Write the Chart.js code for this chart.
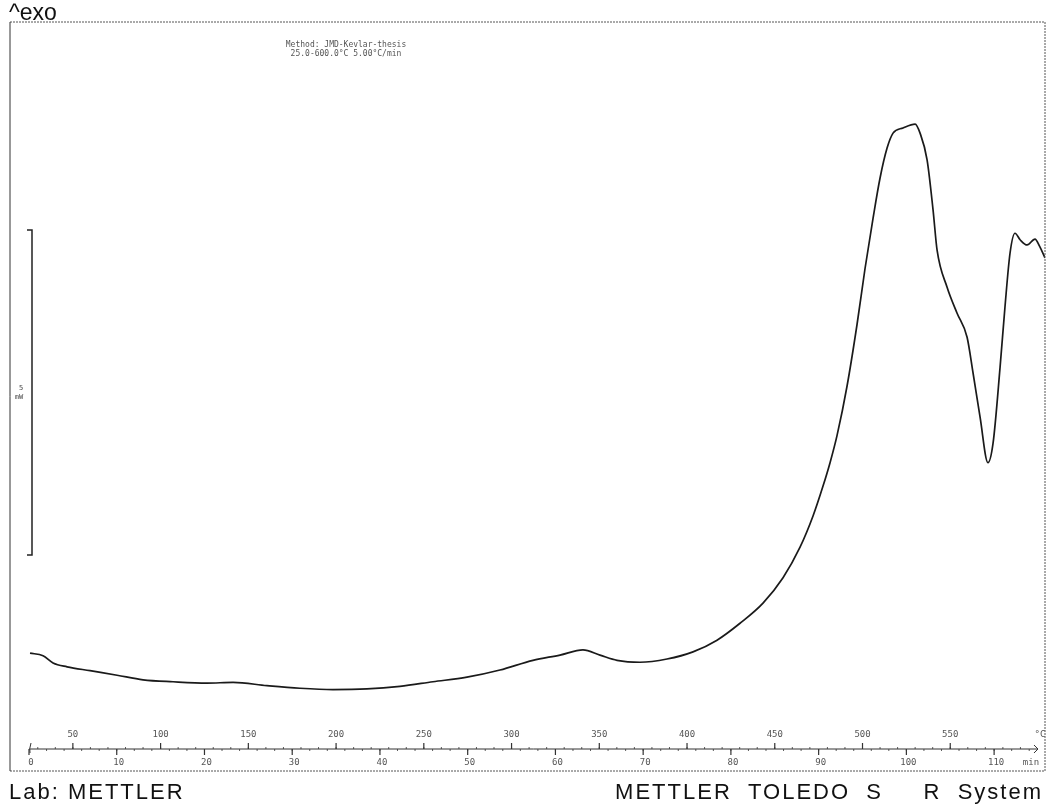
<!DOCTYPE html>
<html>
<head>
<meta charset="utf-8">
<script src="https://cdn.jsdelivr.net/npm/chart.js@4"></script>
<style>
  body { margin: 0; background: #fff; }
  canvas { display: block; }
</style>
</head>
<body>
<canvas id="dsc" width="1049" height="809"></canvas>
<script>
// DSC curve: temperature (°C) and heat flow (mW, arbitrary zero)
const temperatures = [25.6, 33.0, 38.7, 46.7, 59.8, 75.2, 90.0, 107.1, 126.4, 141.3,
    160.6, 179.4, 198.2, 217.6, 236.4, 255.2, 274.6, 293.4, 312.2, 327.6,
    340.7, 350.4, 360.1, 373.2, 388.6, 403.4, 417.1, 430.2, 443.3, 454.7,
    464.4, 471.8, 477.5, 481.5, 485.5, 491.2, 496.9, 501.4, 506.0, 510.0,
    514.0, 517.4, 523.1, 530.0, 532.8, 536.8, 540.2, 542.5, 548.2, 553.9,
    559.6, 563.0, 567.0, 571.5, 574.4, 578.4, 581.2, 584.1, 586.9, 589.8,
    593.8, 598.3, 601.1, 604.0];
const heatFlow = [0.29, 0.25, 0.14, 0.08, 0.02, -0.05, -0.12, -0.15, -0.17, -0.16,
    -0.21, -0.25, -0.27, -0.26, -0.22, -0.15, -0.08, 0.03, 0.18, 0.26,
    0.34, 0.26, 0.18, 0.15, 0.20, 0.31, 0.49, 0.75, 1.06, 1.45,
    1.92, 2.40, 2.86, 3.22, 3.64, 4.40, 5.35, 6.20, 6.98, 7.60,
    8.06, 8.29, 8.37, 8.43, 8.29, 7.88, 7.11, 6.49, 5.92, 5.52,
    5.15, 4.60, 3.92, 3.22, 3.52, 4.69, 5.62, 6.45, 6.75, 6.65,
    6.57, 6.66, 6.54, 6.37];

const tempTicks = [50, 100, 150, 200, 250, 300, 350, 400, 450, 500, 550];
const timeTicks = [0, 10, 20, 30, 40, 50, 60, 70, 80, 90, 100, 110];
const scaleBarMW = [1.8, 6.8]; // 5 mW bar

const startTemp = 25;
const endTemp = 604;
const heatingRate = 5; // °C/min

const ctx = document.getElementById('dsc');

new Chart(ctx, {
    type: 'line',
    data: {
        datasets: [{
            data: temperatures.map((t, i) => ({ x: t, y: heatFlow[i] })),
            borderColor: '#1a1a1a',
            borderWidth: 1.7,
            pointRadius: 0,
            cubicInterpolationMode: 'monotone',
            fill: false
        }]
    },
    options: {
        responsive: false,
        animation: false,
        layout: { padding: { left: 29, right: 4, top: 22, bottom: 33 } },
        plugins: {
            legend: { display: false },
            tooltip: { enabled: false }
        },
        scales: {
            x: { type: 'linear', min: startTemp, max: endTemp, display: false },
            xTime: { type: 'linear', axis: 'x', min: 0, max: (endTemp - startTemp) / heatingRate, display: false },
            y: { min: -1.6, max: 10, display: false }
        }
    },
    plugins: [{
        id: 'mettlerFrame',
        beforeDraw(chart) {
            const c = chart.ctx;
            c.save();
            c.fillStyle = '#fff';
            c.fillRect(0, 0, chart.width, chart.height);
            c.restore();
        },
        afterDatasetsDraw(chart) {
            const { ctx: c, chartArea, scales } = chart;
            const axisY = 749;
            c.save();

            // frame
            c.strokeStyle = '#555';
            c.lineWidth = 1;
            c.setLineDash([2, 1]);
            c.beginPath();
            c.moveTo(10, 22); c.lineTo(1045, 22);
            c.moveTo(1045, 22); c.lineTo(1045, 771);
            c.moveTo(10, 771); c.lineTo(1045, 771);
            c.stroke();
            c.setLineDash([]);
            c.strokeStyle = '#333';
            c.beginPath();
            c.moveTo(10, 22); c.lineTo(10, 771);
            c.stroke();

            // 5 mW scale bar
            const bx = chartArea.left + 3;
            const y1 = scales.y.getPixelForValue(scaleBarMW[1]);
            const y0 = scales.y.getPixelForValue(scaleBarMW[0]);
            c.strokeStyle = '#222';
            c.lineWidth = 1.5;
            c.beginPath();
            c.moveTo(bx - 5, y1); c.lineTo(bx, y1); c.lineTo(bx, y0); c.lineTo(bx - 5, y0);
            c.stroke();
            c.fillStyle = '#444';
            c.font = '7px "DejaVu Sans Mono"';
            c.textAlign = 'center';
            c.fillText('5', 21, (y0 + y1) / 2 - 3);
            c.fillText('mW', 19, (y0 + y1) / 2 + 6);

            // temperature / time axis line
            const xs = scales.x, xt = scales.xTime;
            c.strokeStyle = '#333';
            c.lineWidth = 1;
            c.beginPath();
            c.moveTo(xs.getPixelForValue(startTemp) + 2, axisY - 6);
            c.quadraticCurveTo(xs.getPixelForValue(startTemp), axisY, xs.getPixelForValue(startTemp) + 1, axisY + 4);
            c.moveTo(xs.getPixelForValue(startTemp), axisY);
            c.lineTo(xs.getPixelForValue(600), axisY);
            c.moveTo(xs.getPixelForValue(600) - 4, axisY - 4);
            c.lineTo(xs.getPixelForValue(600), axisY);
            c.lineTo(xs.getPixelForValue(600) - 4, axisY + 4);
            c.stroke();

            // minor ticks
            c.lineWidth = 0.8;
            c.beginPath();
            for (let t = 30; t < 600; t += 10) {
                const px = xs.getPixelForValue(t);
                c.moveTo(px, axisY); c.lineTo(px, axisY - 2);
            }
            for (let m = 2; m < 115; m += 2) {
                const px = xt.getPixelForValue(m);
                c.moveTo(px, axisY); c.lineTo(px, axisY + 2);
            }
            c.stroke();

            // major ticks + labels
            c.lineWidth = 1.2;
            c.fillStyle = '#555';
            c.font = '9px "DejaVu Sans Mono"';
            c.textAlign = 'center';
            c.beginPath();
            tempTicks.forEach(t => {
                const px = xs.getPixelForValue(t);
                c.moveTo(px, axisY); c.lineTo(px, axisY - 6);
                c.fillText(String(t), px, axisY - 12);
            });
            timeTicks.forEach(m => {
                const px = xt.getPixelForValue(m);
                c.moveTo(px, axisY); c.lineTo(px, axisY + 6);
                c.fillText(String(m), px + 2, axisY + 16);
            });
            c.stroke();
            c.fillText('°C', 1040, axisY - 12);
            c.fillText('min', 1031, axisY + 16);

            // method text
            c.fillStyle = '#555';
            c.font = '8px "DejaVu Sans Mono"';
            c.fillText('Method: JMD-Kevlar-thesis', 346, 47);
            c.fillText('25.0-600.0°C 5.00°C/min', 346, 56);

            // header / footer
            c.fillStyle = '#111';
            c.textAlign = 'left';
            c.font = '23px "Liberation Sans"';
            c.fillText('^exo', 9, 20);
            c.font = '22px "Liberation Sans"';
            c.letterSpacing = '2px';
            c.fillText('Lab: METTLER', 9, 799);
            c.textAlign = 'right';
            c.fillText('METTLER  TOLEDO  S     R  System', 1043, 799);
            c.restore();
        }
    }]
});
</script>
</body>
</html>
